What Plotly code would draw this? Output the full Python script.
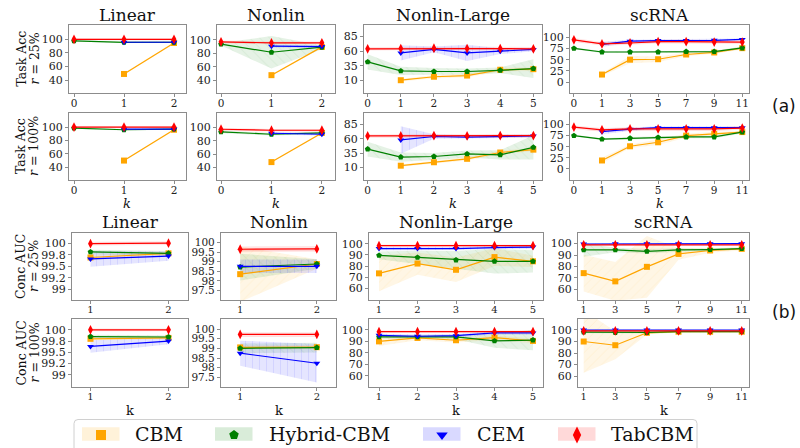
import plotly.graph_objects as go

# ---------------- data ----------------
METHODS = ["CBM", "Hybrid-CBM", "CEM", "TabCBM"]
COLORS = {"CBM": "#FFA500", "Hybrid-CBM": "#008000", "CEM": "#0000FF", "TabCBM": "#FF0000"}
RGB = {"CBM": (255, 165, 0), "Hybrid-CBM": (0, 128, 0), "CEM": (0, 0, 255), "TabCBM": (255, 0, 0)}
SYMBOLS = {"CBM": "square", "Hybrid-CBM": "pentagon", "CEM": "triangle-down", "TabCBM": "diamond-tall"}
HATCH = {"CBM": "/", "Hybrid-CBM": "\\", "CEM": "|", "TabCBM": "-"}

DATASETS = ["Linear", "Nonlin", "Nonlin-Large", "scRNA"]

K_SMALL = [0, 1, 2]
K_LARGE = [0, 1, 2, 3, 4, 5]
K_SCRNA = ["0", "1", "3", "5", "7", "9", "11"]
K_SMALL_B = [1, 2]
K_LARGE_B = [1, 2, 3, 4, 5]
K_SCRNA_B = ["1", "3", "5", "7", "9", "11"]

# Task accuracy, r = 25%
ACC25_LIN_MEAN = {"CBM": [49, 94.5], "Hybrid-CBM": [97.6, 95.5, 95.6], "CEM": [95.6, 95.6], "TabCBM": [100, 100, 100]}
ACC25_LIN_ERR = {"CBM": [1, 1], "Hybrid-CBM": [1, 1, 1], "CEM": [1, 1], "TabCBM": [1.5, 1.5, 1.5]}
ACC25_NON_MEAN = {"CBM": [47.5, 89.5], "Hybrid-CBM": [93.5, 81.5, 89], "CEM": [90.5, 90], "TabCBM": [97, 95.5, 95.5]}
ACC25_NON_ERR = {"CBM": [1, 1], "Hybrid-CBM": [2, 24, 3], "CEM": [2, 2], "TabCBM": [2, 2, 2]}
ACC25_NL_MEAN = {"CBM": [10, 16, 18, 28, 29], "Hybrid-CBM": [41.5, 26, 25, 25, 27, 30],
                 "CEM": [57, 63, 57, 60, 63], "TabCBM": [64, 64.5, 65, 64.5, 64.5, 64]}
ACC25_NL_ERR = {"CBM": [2, 3, 3, 3, 3], "Hybrid-CBM": [13, 7, 6, 5, 5, 16],
                "CEM": [13, 5, 14, 5, 3], "TabCBM": [3, 3, 3, 3, 3, 3]}
ACC25_SC_MEAN = {"CBM": [17, 50, 51, 61.5, 66, 75.6], "Hybrid-CBM": [75, 67, 67, 67, 68, 68, 76],
                 "CEM": [84, 91, 92.5, 92.5, 93, 95], "TabCBM": [94, 85, 87, 90, 90, 89, 89]}
ACC25_SC_ERR = {"CBM": [3, 8, 6, 4, 3, 3], "Hybrid-CBM": [2, 2, 2, 2, 2, 2, 3],
                "CEM": [6, 3, 3, 3, 3, 2], "TabCBM": [4, 4, 4, 4, 4, 4, 4]}

# Task accuracy, r = 100%
ACC100_LIN_MEAN = {"CBM": [50, 96], "Hybrid-CBM": [98.5, 96, 97], "CEM": [97, 97], "TabCBM": [100, 100, 100]}
ACC100_LIN_ERR = {"CBM": [1, 1], "Hybrid-CBM": [1, 1, 1], "CEM": [1, 1], "TabCBM": [1.5, 1.5, 1.5]}
ACC100_NON_MEAN = {"CBM": [48, 92], "Hybrid-CBM": [93.5, 90, 92], "CEM": [91.5, 90], "TabCBM": [97.5, 96, 96]}
ACC100_NON_ERR = {"CBM": [1, 1], "Hybrid-CBM": [2, 2, 2], "CEM": [2, 2], "TabCBM": [2, 2, 2]}
ACC100_NL_MEAN = {"CBM": [13, 19, 25, 36, 41], "Hybrid-CBM": [42, 28, 29, 33.5, 32, 45],
                  "CEM": [58, 64, 63, 64, 65], "TabCBM": [65, 65, 65.5, 65, 65.5, 65.5]}
ACC100_NL_ERR = {"CBM": [2, 3, 3, 3, 3], "Hybrid-CBM": [13, 8, 6, 6, 8, 21],
                 "CEM": [24, 4, 3, 3, 3], "TabCBM": [3, 3, 3, 3, 3, 3]}
ACC100_SC_MEAN = {"CBM": [19, 51, 60, 75, 79, 83], "Hybrid-CBM": [75, 67, 69, 71, 72, 72, 83],
                  "CEM": [84, 89.5, 93, 93, 93, 93], "TabCBM": [94, 88, 90, 90, 90, 90, 92]}
ACC100_SC_ERR = {"CBM": [6, 4, 6, 5, 4, 3], "Hybrid-CBM": [2, 2, 3, 3, 3, 3, 3],
                 "CEM": [6, 4, 3, 3, 3, 3], "TabCBM": [4, 4, 4, 4, 4, 4, 4]}

# Concept AUC, r = 25%
AUC25_LIN_MEAN = {"CBM": [99.69, 99.78], "Hybrid-CBM": [99.81, 99.78], "CEM": [99.66, 99.72], "TabCBM": [99.99, 100.0]}
AUC25_LIN_ERR = {"CBM": [0.06, 0.04], "Hybrid-CBM": [0.05, 0.05], "CEM": [0.17, 0.1], "TabCBM": [0.04, 0.04]}
AUC25_NON_MEAN = {"CBM": [98.35, 98.88], "Hybrid-CBM": [98.72, 98.88], "CEM": [98.76, 98.76], "TabCBM": [99.65, 99.67]}
AUC25_NON_ERR = {"CBM": [1.45, 0.25], "Hybrid-CBM": [0.7, 0.25], "CEM": [0.35, 0.35], "TabCBM": [0.15, 0.15]}
AUC25_NL_MEAN = {"CBM": [73.4, 82.2, 76.6, 88, 84.2], "Hybrid-CBM": [89.5, 87.7, 85.4, 84.2, 84.2],
                 "CEM": [95.6, 95.6, 95.6, 96.5, 97], "TabCBM": [98.2, 98.2, 98.2, 98.2, 98.2]}
AUC25_NL_ERR = {"CBM": [16, 10, 11, 8, 5], "Hybrid-CBM": [3.5, 6, 8, 11, 10],
                "CEM": [1.5, 1.5, 1.5, 1.5, 1.5], "TabCBM": [1, 1, 1, 1, 1]}
AUC25_SC_MEAN = {"CBM": [74.2, 67, 79.7, 91, 94, 95.4], "Hybrid-CBM": [94.5, 94.5, 93.3, 94.5, 94.8, 95.6],
                 "CEM": [99.7, 99.8, 99.8, 99.8, 99.8, 100], "TabCBM": [99, 99, 99, 99, 99, 99]}
AUC25_SC_ERR = {"CBM": [16, 17, 27, 5, 2, 1.5], "Hybrid-CBM": [6, 2, 2, 1.5, 1, 1],
                "CEM": [0.5, 0.5, 0.5, 0.5, 0.5, 0.5], "TabCBM": [0.5, 0.5, 0.5, 0.5, 0.5, 0.5]}

# Concept AUC, r = 100%
AUC100_LIN_MEAN = {"CBM": [99.8, 99.82], "Hybrid-CBM": [99.85, 99.84], "CEM": [99.63, 99.75], "TabCBM": [100, 100]}
AUC100_LIN_ERR = {"CBM": [0.03, 0.03], "Hybrid-CBM": [0.04, 0.04], "CEM": [0.14, 0.07], "TabCBM": [0.03, 0.03]}
AUC100_NON_MEAN = {"CBM": [99.05, 99.06], "Hybrid-CBM": [99.0, 99.04], "CEM": [98.75, 98.23], "TabCBM": [99.72, 99.72]}
AUC100_NON_ERR = {"CBM": [0.1, 0.1], "Hybrid-CBM": [0.25, 0.25], "CEM": [0.65, 1.0], "TabCBM": [0.12, 0.12]}
AUC100_NL_MEAN = {"CBM": [90, 93, 91, 93.3, 90.4], "Hybrid-CBM": [93.9, 93.9, 93.9, 90.4, 91.2],
                  "CEM": [95.3, 94.5, 95, 97.4, 97.4], "TabCBM": [98.5, 98.5, 98.5, 98.5, 98.5]}
AUC100_NL_ERR = {"CBM": [4, 2, 2, 2, 2], "Hybrid-CBM": [1.5, 1.5, 2, 6, 9],
                 "CEM": [1.5, 1.5, 1.5, 1.5, 1.5], "TabCBM": [1, 1, 1, 1, 1]}
AUC100_SC_MEAN = {"CBM": [89.9, 86.7, 97.4, 98.3, 98.3, 98.3], "Hybrid-CBM": [98, 97.7, 97.7, 98.5, 98.5, 98.5],
                  "CEM": [99.8, 99.8, 99.8, 99.8, 99.8, 99.8], "TabCBM": [99, 99, 99, 99, 99, 99]}
AUC100_SC_ERR = {"CBM": [27, 12, 1.5, 0.5, 0.5, 0.5], "Hybrid-CBM": [1, 1, 1, 1, 1, 1],
                 "CEM": [0.3, 0.3, 0.3, 0.3, 0.3, 0.3], "TabCBM": [0.5, 0.5, 0.5, 0.5, 0.5, 0.5]}

# tick labels
YT_ACC_SMALL = [40, 60, 80, 100]
YT_ACC_NL = [10, 35, 60, 85]
YT_ACC_SC = [0, 25, 50, 75, 100]
YT_AUC_LIN = [99, 99.25, 99.5, 99.75, 100]
YT_AUC_LIN_TEXT = ["99", "99.2", "99.5", "99.8", "100"]
YT_AUC_NON = [97.5, 98, 98.5, 99, 99.5, 100]
YT_AUC_NON_TEXT = ["97.5", "98", "98.5", "99", "99.5", "100"]
YT_AUC_BIG = [60, 70, 80, 90, 100]

ROW_LABELS = [("Task Acc", "<i>r</i> = 25%"), ("Task Acc", "<i>r</i> = 100%"),
              ("Conc AUC", "<i>r</i> = 25%"), ("Conc AUC", "<i>r</i> = 100%")]

# ---------------- layout geometry (pixels) ----------------
W, H = 800, 448
COLS_A = [(69, 186), (217, 335), (364, 542), (570, 749)]
COLS_B = [(72, 188), (221, 336), (369, 543), (578, 749)]
ROWS = [(25, 93), (113, 180), (233, 300), (319, 387)]

SERIF = "DejaVu Serif"
FRAME = "#8c8c8c"


def px(x):
    return x / W


def py(y):
    return 1 - y / H


def rgba(m, a):
    r, g, b = RGB[m]
    return f"rgba({r},{g},{b},{a})"


def note(text, x, y, size, family=SERIF, angle=0, xanchor="center"):
    return dict(text=text, x=px(x), y=py(y), xref="paper", yref="paper", showarrow=False,
                xanchor=xanchor, yanchor="middle", textangle=angle,
                font=dict(family=family, size=size, color="#111"))


panels = [
    # row 0
    (K_SMALL, ACC25_LIN_MEAN, ACC25_LIN_ERR, [-0.1, 2.24], [21, 121], YT_ACC_SMALL, None, False),
    (K_SMALL, ACC25_NON_MEAN, ACC25_NON_ERR, [-0.08, 2.26], [21, 122], YT_ACC_SMALL, None, False),
    (K_LARGE, ACC25_NL_MEAN, ACC25_NL_ERR, [-0.11, 5.26], [-12, 105], YT_ACC_NL, None, False),
    (K_SCRNA, ACC25_SC_MEAN, ACC25_SC_ERR, [-0.14, 6.24], [-24, 127], YT_ACC_SC, None, True),
    # row 1
    (K_SMALL, ACC100_LIN_MEAN, ACC100_LIN_ERR, [-0.1, 2.24], [21, 121], YT_ACC_SMALL, None, False),
    (K_SMALL, ACC100_NON_MEAN, ACC100_NON_ERR, [-0.08, 2.26], [21, 122], YT_ACC_SMALL, None, False),
    (K_LARGE, ACC100_NL_MEAN, ACC100_NL_ERR, [-0.11, 5.26], [-12, 105], YT_ACC_NL, None, False),
    (K_SCRNA, ACC100_SC_MEAN, ACC100_SC_ERR, [-0.14, 6.24], [-25, 126], YT_ACC_SC, None, True),
    # row 2
    (K_SMALL_B, AUC25_LIN_MEAN, AUC25_LIN_ERR, [0.763, 2.25], [98.77, 100.22], YT_AUC_LIN, YT_AUC_LIN_TEXT, False),
    (K_SMALL_B, AUC25_NON_MEAN, AUC25_NON_ERR, [0.75, 2.25], [97.0, 100.5], YT_AUC_NON, YT_AUC_NON_TEXT, False),
    (K_LARGE_B, AUC25_NL_MEAN, AUC25_NL_ERR, [0.74, 5.26], [49.5, 109.6], YT_AUC_BIG, None, False),
    (K_SCRNA_B, AUC25_SC_MEAN, AUC25_SC_ERR, [-0.18, 5.23], [50.7, 109.3], YT_AUC_BIG, None, True),
    # row 3
    (K_SMALL_B, AUC100_LIN_MEAN, AUC100_LIN_ERR, [0.763, 2.25], [98.73, 100.24], YT_AUC_LIN, YT_AUC_LIN_TEXT, False),
    (K_SMALL_B, AUC100_NON_MEAN, AUC100_NON_ERR, [0.75, 2.25], [97.0, 100.52], YT_AUC_NON, YT_AUC_NON_TEXT, False),
    (K_LARGE_B, AUC100_NL_MEAN, AUC100_NL_ERR, [0.74, 5.26], [50.1, 109.6], YT_AUC_BIG, None, False),
    (K_SCRNA_B, AUC100_SC_MEAN, AUC100_SC_ERR, [-0.18, 5.23], [50.7, 109.3], YT_AUC_BIG, None, True),
]

fig = go.Figure()
layout = {}
annotations = []
shapes = []

for idx, (ks, means, errs, xr, yr, yt, ytt, is_cat) in enumerate(panels):
    r, c = divmod(idx, 4)
    n = idx + 1
    xa = "x" if n == 1 else f"x{n}"
    ya = "y" if n == 1 else f"y{n}"
    cols = COLS_A if r < 2 else COLS_B
    x0, x1 = cols[c]
    y0, y1 = ROWS[r]

    # bands first
    for m in METHODS:
        mu = means[m]
        er = errs[m]
        xs = ks[len(ks) - len(mu):]
        hi = [a + b for a, b in zip(mu, er)]
        lo = [a - b for a, b in zip(mu, er)]
        fig.add_trace(go.Scatter(
            x=list(xs) + list(xs)[::-1], y=hi + lo[::-1],
            mode="lines", line=dict(width=0), fill="toself",
            fillcolor=rgba(m, 0.12),
            fillpattern=dict(shape=HATCH[m], fgcolor=rgba(m, 0.18), bgcolor=rgba(m, 0.10),
                             size=7, solidity=0.12),
            hoverinfo="skip", showlegend=False, xaxis=xa, yaxis=ya))
    for m in METHODS:
        mu = means[m]
        xs = ks[len(ks) - len(mu):]
        msize = 7 if m == "TabCBM" else 6
        fig.add_trace(go.Scatter(
            x=list(xs), y=mu, mode="lines+markers",
            line=dict(color=COLORS[m], width=1.2),
            marker=dict(symbol=SYMBOLS[m], size=msize, color=COLORS[m], line=dict(width=0)),
            name=m, showlegend=False, xaxis=xa, yaxis=ya))

    tick_font_x = dict(family=SERIF, size=10.5 if r < 2 else 10, color="#222")
    xd = dict(domain=[px(x0), px(x1)], range=xr, anchor=ya,
              showline=True, mirror=True, linecolor=FRAME, linewidth=1.2,
              ticks="outside", ticklen=3, tickwidth=1, tickcolor=FRAME,
              ticklabelstandoff=-3,
              showgrid=False, zeroline=False, tickfont=tick_font_x)
    if is_cat:
        xd.update(type="category", categoryorder="array", categoryarray=ks)
    else:
        xd.update(tickvals=ks)
    ysize = 10.5 if ytt is not None and c == 1 else 11
    yd = dict(domain=[py(y1), py(y0)], range=yr, anchor=xa,
              showline=True, mirror=True, linecolor=FRAME, linewidth=1.2,
              ticks="outside", ticklen=3, tickwidth=1, tickcolor=FRAME,
              showgrid=False, zeroline=False, tickvals=yt,
              tickfont=dict(family=SERIF, size=ysize, color="#222"))
    if ytt is not None:
        yd["ticktext"] = ytt
    layout["xaxis" if n == 1 else f"xaxis{n}"] = xd
    layout["yaxis" if n == 1 else f"yaxis{n}"] = yd

    xc = (x0 + x1) / 2
    if r in (0, 2):
        annotations.append(note(DATASETS[c], xc, 15 if r == 0 else 222, 17))
    if r == 1:
        annotations.append(note("<i>k</i>", xc, 204, 13))
    if r == 3:
        annotations.append(note("k", xc, 410, 13))

# row labels
for r, (l1, l2) in enumerate(ROW_LABELS):
    yc = (ROWS[r][0] + ROWS[r][1]) / 2
    annotations.append(note(l1, 20.5, yc, 12.5, angle=-90))
    annotations.append(note(l2, 33.5, yc, 12.5, angle=-90))

# (a) / (b)
annotations.append(note("(a)", 784, 106, 17, family="DejaVu Sans"))
annotations.append(note("(b)", 784, 312, 17, family="DejaVu Sans"))

# ---------------- legend (drawn manually) ----------------
LEGEND_PATCH_X = [82, 215, 423, 558]
LEGEND_TEXT_X = [133, 267, 475, 609]
lx0, lx1, ly0, ly1, rad = 74, 697, 419.5, 460, 4
shapes.append(dict(type="path", xref="paper", yref="paper",
                   path=(f"M {px(lx0)},{py(ly1)} L {px(lx0)},{py(ly0 + rad)} "
                         f"Q {px(lx0)},{py(ly0)} {px(lx0 + rad)},{py(ly0)} "
                         f"L {px(lx1 - rad)},{py(ly0)} Q {px(lx1)},{py(ly0)} {px(lx1)},{py(ly0 + rad)} "
                         f"L {px(lx1)},{py(ly1)}"),
                   line=dict(color="#d0d0d0", width=1), fillcolor="white", layer="below"))
layout["xaxis17"] = dict(domain=[0, 1], range=[0, W], visible=False, anchor="y17", fixedrange=True)
layout["yaxis17"] = dict(domain=[0, 1], range=[H, 0], visible=False, anchor="x17", fixedrange=True)
for m, lpx, ltx in zip(METHODS, LEGEND_PATCH_X, LEGEND_TEXT_X):
    shapes.append(dict(type="rect", xref="paper", yref="paper",
                       x0=px(lpx), x1=px(lpx + 37.5), y0=py(440.7), y1=py(427.3),
                       line=dict(width=0), fillcolor=rgba(m, 0.15), layer="above"))
    fig.add_trace(go.Scatter(x=[lpx + 19], y=[435], mode="markers", xaxis="x17", yaxis="y17",
                             marker=dict(symbol=SYMBOLS[m], size=10 if m != "TabCBM" else 12,
                                         color=COLORS[m], line=dict(width=0)),
                             showlegend=False, hoverinfo="skip"))
    annotations.append(note(m, ltx, 433.5, 19, xanchor="left"))

fig.update_layout(width=W, height=H, margin=dict(l=0, r=0, t=0, b=0, pad=0),
                  paper_bgcolor="white", plot_bgcolor="rgba(0,0,0,0)",
                  showlegend=False, annotations=annotations, shapes=shapes, **layout)

fig.write_html("out.html")
